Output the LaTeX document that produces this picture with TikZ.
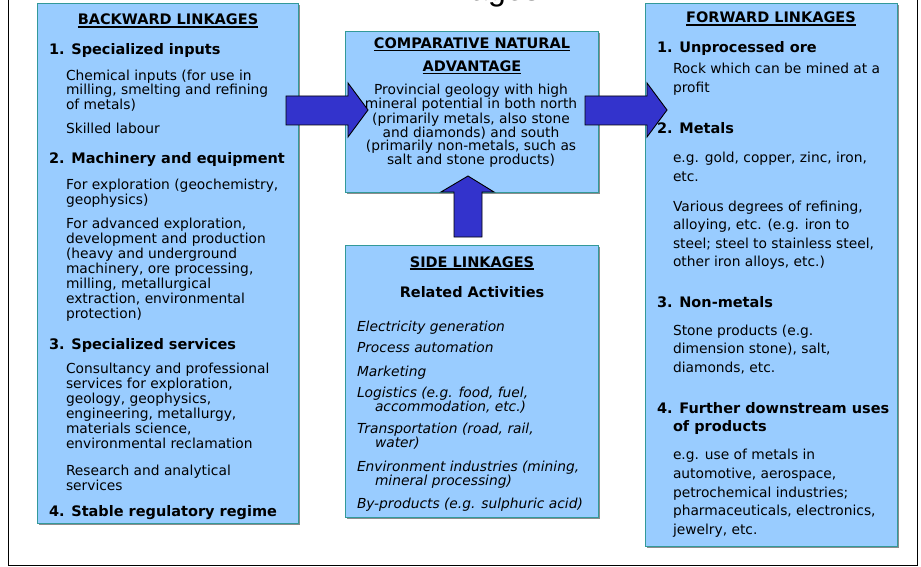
\documentclass[tikz,border=0pt]{standalone}
\usepackage{fontspec}
\setmainfont{DejaVu Sans}
\newfontfamily\titlefont{Liberation Sans}
\usetikzlibrary{shadows}
\definecolor{boxfill}{HTML}{99CCFF}
\definecolor{boxline}{HTML}{339999}
\definecolor{arrowfill}{HTML}{3333CC}
\newcommand\ulin[1]{\setbox0\hbox{#1}\rlap{\rule[-2.6pt]{\wd0}{1.3pt}}\box0}
\tikzset{
  panel/.style={draw=boxline, line width=1.1pt, fill=boxfill, anchor=north west,
    inner sep=0pt, drop shadow={shadow xshift=1.5pt, shadow yshift=-1.5pt, fill=black!45, opacity=1}},
  frame/.style={draw=black, line width=1pt},
  para/.style={anchor=north west, inner sep=0pt, outer sep=0pt, align=left, yshift=11pt,
    execute at begin node={\rule{0pt}{11pt}}},
  cpara/.style={anchor=north, inner sep=0pt, outer sep=0pt, align=center, yshift=11pt,
    execute at begin node={\rule{0pt}{11pt}}},
  body/.style={font=\fontsize{13.8}{#1}\selectfont}, body/.default=15,
  ibody/.style={font=\fontsize{13.8}{#1}\selectfont\itshape}, ibody/.default=14.5,
  head/.style={font=\fontsize{14.5}{#1}\selectfont\bfseries}, head/.default=18.5,
  blockarrow/.style={fill=arrowfill, draw=black, line width=0.9pt, line join=miter},
  titletext/.style={anchor=base east, inner sep=0pt, font=\titlefont\fontsize{32}{32}\selectfont}
}
\begin{document}
\begin{tikzpicture}[x=1pt,y=-1pt]
\path[use as bounding box, clip] (0,0) rectangle (921,567);
\fill[white] (0,0) rectangle (921,567);
% partial title
\node[titletext] (ttl) at (540,1) {ages};
% outer frame
\draw[frame] (8.5,-3) -- (8.5,565.5) -- (917.5,565.5) -- (917.5,-3);
% panels
\node[panel, minimum width=261pt, minimum height=520pt] (back) at (37,3) {};
\node[panel, minimum width=253pt, minimum height=161pt] (adv) at (345,31) {};
\node[panel, minimum width=253pt, minimum height=272pt] (side) at (345,245) {};
\node[panel, minimum width=252pt, minimum height=543pt] (fwd) at (645,3) {};
% block arrows
\draw[blockarrow] (286,96) -- (348,96) -- (348,83) -- (368,110) -- (348,137) -- (348,125) -- (286,125) -- cycle;
\draw[blockarrow] (585,96) -- (647,96) -- (647,83) -- (667,110) -- (647,137) -- (647,125) -- (585,125) -- cycle;
\draw[blockarrow] (454,237) -- (454,192) -- (441,192) -- (468,176) -- (494,192) -- (482,192) -- (482,237) -- cycle;
% backward linkages
\node[cpara, head] (bt) at (168,25) {\ulin{BACKWARD LINKAGES}};
\node[para, head] (b1) at (49,54) {1. Specialized inputs};
\node[para, body=14.5] (b1a) at (66,81) {Chemical inputs (for use in\\milling, smelting and refining\\of metals)};
\node[para, body] (b1b) at (66,134) {Skilled labour};
\node[para, head] (b2) at (49,163) {2. Machinery and equipment};
\node[para, body] (b2a) at (66,190) {For exploration (geochemistry,\\geophysics)};
\node[para, body] (b2b) at (66,229) {For advanced exploration,\\development and production\\(heavy and underground\\machinery, ore processing,\\milling, metallurgical\\extraction, environmental\\protection)};
\node[para, head] (b3) at (49,349) {3. Specialized services};
\node[para, body] (b3a) at (66,374) {Consultancy and professional\\services for exploration,\\geology, geophysics,\\engineering, metallurgy,\\materials science,\\environmental reclamation};
\node[para, body] (b3b) at (66,476) {Research and analytical\\services};
\node[para, head] (b4) at (49,516) {4. Stable regulatory regime};
% comparative natural advantage
\node[cpara, head=23] (at) at (472,49) {\ulin{COMPARATIVE NATURAL}\\\ulin{ADVANTAGE}};
\node[cpara, body=13] (aa) at (471,95) {Provincial geology with high\\mineral potential in both north\\(primarily metals, also stone\\and diamonds) and south\\(primarily non-metals, such as\\salt and stone products)};
% side linkages
\node[cpara, head] (st) at (472,267) {\ulin{SIDE LINKAGES}};
\node[cpara, head] (sr) at (472,297) {Related Activities};
\node[para, ibody] (s1) at (357,331) {Electricity generation};
\node[para, ibody] (s2) at (357,352) {Process automation};
\node[para, ibody] (s3) at (357,376) {Marketing};
\node[para, ibody] (s4) at (357,398) {Logistics (e.g. food, fuel,\\\hspace*{18pt}accommodation, etc.)};
\node[para, ibody] (s5) at (357,434) {Transportation (road, rail,\\\hspace*{18pt}water)};
\node[para, ibody] (s6) at (357,472) {Environment industries (mining,\\\hspace*{18pt}mineral processing)};
\node[para, ibody] (s7) at (357,508) {By-products (e.g. sulphuric acid)};
% forward linkages
\node[cpara, head] (ft) at (771,23) {\ulin{FORWARD LINKAGES}};
\node[para, head] (f1) at (657,52) {1. Unprocessed ore};
\node[para, body=19] (f1a) at (673,74) {Rock which can be mined at a\\profit};
\node[para, head] (f2) at (657,133) {2. Metals};
\node[para, body=19] (f2a) at (673,163) {e.g. gold, copper, zinc, iron,\\etc.};
\node[para, body=18.5] (f2b) at (673,212) {Various degrees of refining,\\alloying, etc. (e.g. iron to\\steel; steel to stainless steel,\\other iron alloys, etc.)};
\node[para, head] (f3) at (657,307) {3. Non-metals};
\node[para, body=18.5] (f3a) at (673,336) {Stone products (e.g.\\dimension stone), salt,\\diamonds, etc.};
\node[para, head=18.5] (f4) at (657,413) {4. Further downstream uses\\\hspace*{16pt}of products};
\node[para, body=18.8] (f4a) at (673,460) {e.g. use of metals in\\automotive, aerospace,\\petrochemical industries;\\pharmaceuticals, electronics,\\jewelry, etc.};
\end{tikzpicture}
\end{document}
